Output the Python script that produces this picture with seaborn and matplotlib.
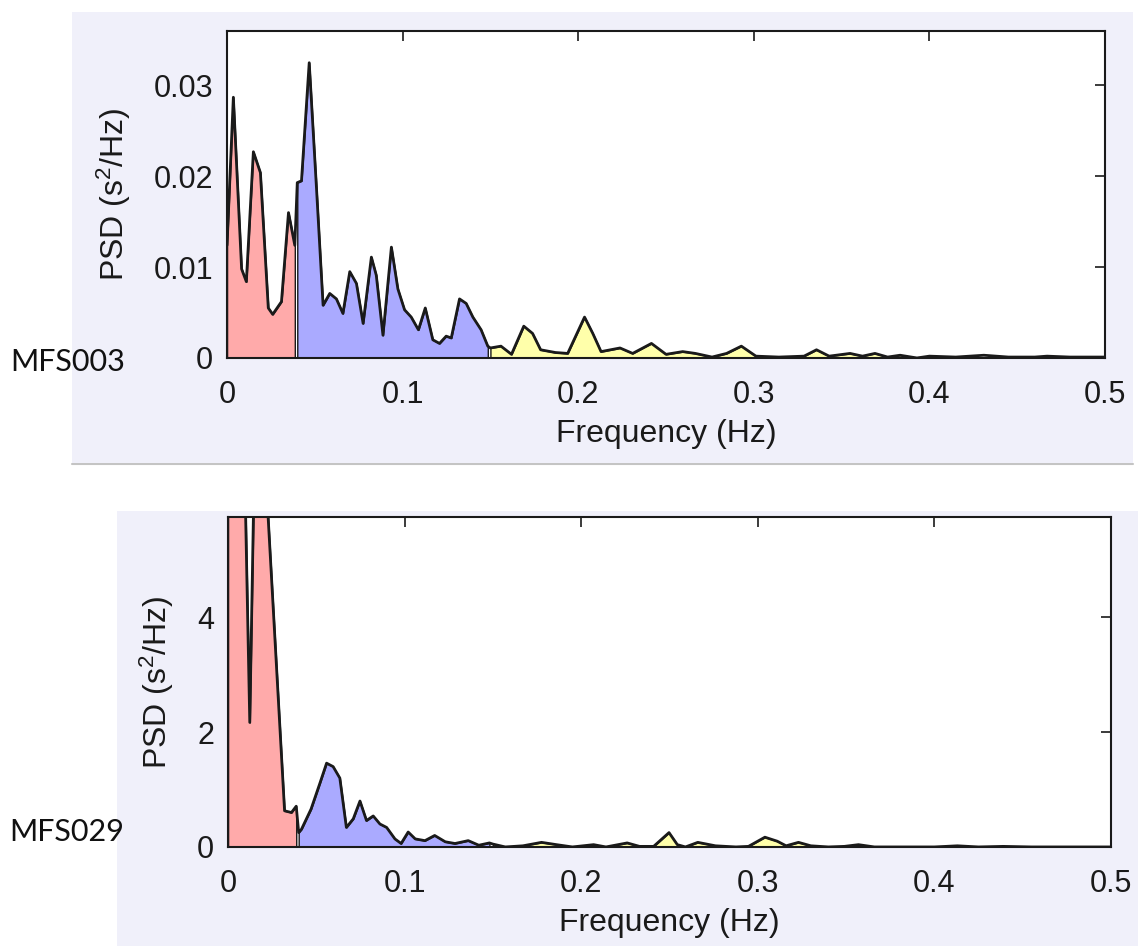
import numpy as np
import matplotlib
matplotlib.use('Agg')
import matplotlib.pyplot as plt
from matplotlib.patches import Rectangle
import seaborn as sns

# HRV power spectra for two subjects
labels = ['MFS003', 'MFS029']

# MFS003
freq_003 = [0.0, 0.0036, 0.0083, 0.011, 0.015, 0.019, 0.0235, 0.026, 0.031, 0.035, 0.0386,
            0.04, 0.0424, 0.0468, 0.051, 0.0547, 0.0585, 0.0623, 0.066, 0.0699, 0.0737,
            0.0775, 0.0822, 0.085, 0.0888, 0.0936, 0.0973, 0.1011, 0.1049, 0.109, 0.1129,
            0.1172, 0.121, 0.1248, 0.1277, 0.1324, 0.1362, 0.14, 0.1447, 0.1485,
            0.15, 0.156, 0.162, 0.169, 0.174, 0.1786, 0.187, 0.194, 0.2036, 0.2083,
            0.213, 0.2238, 0.231, 0.2417, 0.25, 0.2595, 0.2667, 0.2762, 0.2845, 0.2929,
            0.3012, 0.3143, 0.3286, 0.3357, 0.3429, 0.3548, 0.3619, 0.369, 0.3762, 0.3833,
            0.3929, 0.4,
            0.415, 0.431, 0.445, 0.46, 0.467, 0.48, 0.5]
psd_003 = [0.0124, 0.0287, 0.0098, 0.0084, 0.0227, 0.0204, 0.0055, 0.0048, 0.0062, 0.016, 0.0124,
           0.0193, 0.0195, 0.0325, 0.0185, 0.0058, 0.0071, 0.0065, 0.0049, 0.0095, 0.0082,
           0.0038, 0.0111, 0.0091, 0.0025, 0.0122, 0.0076, 0.0053, 0.0045, 0.0031, 0.0055,
           0.002, 0.0016, 0.0024, 0.0022, 0.0065, 0.006, 0.0045, 0.0031, 0.0013,
           0.0011, 0.0013, 0.0004, 0.0035, 0.0027, 0.0009, 0.0006, 0.0005, 0.0045, 0.0027,
           0.0007, 0.0011, 0.0005, 0.0016, 0.0004, 0.0007, 0.0005, 0.0001, 0.0005, 0.0013,
           0.0002, 0.0001, 0.0002, 0.0009, 0.0002, 0.0005, 0.0002, 0.0005, 0.0001, 0.0003,
           0.0, 0.0002,
           0.0001, 0.0003, 0.0001, 0.0001, 0.0002, 0.0001, 0.0001]

# MFS029 (first peaks run off the top of the axes)
freq_029 = [0.0, 0.004, 0.0085, 0.0123, 0.0162, 0.0195, 0.032, 0.0359, 0.0386,
            0.04, 0.0416, 0.047, 0.052, 0.0558, 0.0595, 0.0633, 0.067, 0.0709, 0.0747,
            0.0784, 0.0822, 0.086, 0.0898, 0.0945, 0.098, 0.102, 0.106, 0.1115, 0.117,
            0.123, 0.1285, 0.136, 0.142, 0.148,
            0.15, 0.157, 0.167, 0.1775, 0.186, 0.195, 0.207, 0.214, 0.226, 0.233,
            0.241, 0.2497, 0.2544, 0.259, 0.266, 0.276, 0.2876, 0.2947, 0.304, 0.311,
            0.316, 0.323, 0.33, 0.34, 0.349, 0.357, 0.366, 0.38, 0.392, 0.4,
            0.413, 0.425, 0.439, 0.455, 0.475, 0.5]
psd_029 = [6.5, 9.0, 8.0, 2.17, 9.0, 7.5, 0.63, 0.6, 0.71,
           0.25, 0.31, 0.66, 1.11, 1.46, 1.4, 1.2, 0.34, 0.49, 0.8,
           0.46, 0.54, 0.4, 0.34, 0.14, 0.06, 0.26, 0.14, 0.11, 0.2,
           0.09, 0.06, 0.11, 0.03, 0.07,
           0.05, 0.0, 0.02, 0.08, 0.04, 0.0, 0.04, 0.0, 0.07, 0.01,
           0.01, 0.25, 0.04, 0.0, 0.08, 0.02, 0.0, 0.01, 0.17, 0.1,
           0.02, 0.08, 0.02, 0.0, 0.01, 0.04, 0.0, 0.0, 0.0, 0.0,
           0.02, 0.0, 0.01, 0.0, 0.0, 0.0]

# frequency bands: VLF, LF, HF
band_edges = [0.0, 0.04, 0.15, 0.4]
band_colors = ['#ffaaaa', '#aaaaff', '#ffffaa']

x_ticks = [0, 0.1, 0.2, 0.3, 0.4, 0.5]
x_ticklabels = ['0', '0.1', '0.2', '0.3', '0.4', '0.5']
y_ticks_003 = [0, 0.01, 0.02, 0.03]
y_ticklabels_003 = ['0', '0.01', '0.02', '0.03']
y_ticks_029 = [0, 2, 4]
y_ticklabels_029 = ['0', '2', '4']
ylim_003 = 0.036
ylim_029 = 5.75

sns.set_theme(style='white')
plt.rcParams['font.family'] = ['Liberation Sans', 'DejaVu Sans']
plt.rcParams['mathtext.fontset'] = 'custom'
plt.rcParams['mathtext.rm'] = 'Liberation Sans'
plt.rcParams['mathtext.it'] = 'Liberation Sans:italic'

fig = plt.figure(figsize=(11.38, 9.46), dpi=100)
fig.patch.set_facecolor('white')

# lavender panels behind each plot
panel_color = '#f0f0fa'
fig.patches.append(Rectangle((0.0633, 0.5106), 0.9323, 0.4767, transform=fig.transFigure,
                             facecolor=panel_color, edgecolor='none', zorder=-10))
fig.patches.append(Rectangle((0.1030, 0.0), 0.8970, 0.4600, transform=fig.transFigure,
                             facecolor=panel_color, edgecolor='none', zorder=-10))
fig.add_artist(plt.Line2D([0.0633, 0.9956], [0.5096, 0.5096], transform=fig.transFigure,
                          color='#c4c4c4', lw=1.5, zorder=-10))

ax1 = fig.add_axes([0.1995, 0.6216, 0.7715, 0.3457])
ax2 = fig.add_axes([0.2004, 0.1047, 0.7759, 0.3488])

panels = [
    (ax1, freq_003, psd_003, ylim_003, y_ticks_003, y_ticklabels_003),
    (ax2, freq_029, psd_029, ylim_029, y_ticks_029, y_ticklabels_029),
]

for ax, freq, psd, ytop, yt, ytl in panels:
    f = np.array(freq)
    p = np.array(psd)
    ax.set_facecolor('white')
    ax.set_axisbelow(True)

    # shaded bands, each drawn as its own outlined area
    for i in range(3):
        lo, hi = band_edges[i], band_edges[i + 1]
        if i == 2:
            m = (f >= lo) & (f <= hi)
        else:
            m = (f >= lo) & (f < hi)
        ax.fill_between(f[m], p[m], 0, facecolor=band_colors[i],
                        edgecolor='#1a1a1a', linewidth=1.0, zorder=1)

    sns.lineplot(x=f, y=p, ax=ax, color='#1a1a1a', linewidth=2.0,
                 errorbar=None, zorder=2)

    ax.set_xlim(0, 0.5)
    ax.set_ylim(0, ytop)
    ax.set_xticks(x_ticks)
    ax.set_xticklabels(x_ticklabels)
    ax.set_yticks(yt)
    ax.set_yticklabels(ytl)
    ax.tick_params(direction='in', length=7, width=1.2, top=True, right=True,
                   labelsize=22, colors='#1a1a1a')
    ax.tick_params(axis='x', pad=16)
    ax.tick_params(axis='y', pad=10)
    for s in ax.spines.values():
        s.set_color('#1a1a1a')
        s.set_linewidth(1.5)
    ax.set_xlabel('Frequency (Hz)', fontsize=23, color='#1a1a1a', labelpad=6)
    ax.set_ylabel('PSD (s$^{2}$/Hz)', fontsize=23, color='#1a1a1a', labelpad=15)

# subject labels on the left
fig.text(0.009, 1 - 362 / 946, labels[0], fontsize=22, family=['Lato', 'DejaVu Sans'],
         color='#111111', va='center', ha='left')
fig.text(0.008, 1 - 832 / 946, labels[1], fontsize=22, family=['Lato', 'DejaVu Sans'],
         color='#111111', va='center', ha='left')

plt.savefig('out.png', dpi=100)
